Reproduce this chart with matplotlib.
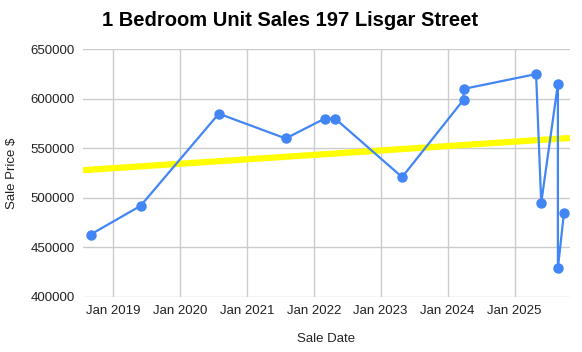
import numpy as np
import pandas as pd
import matplotlib
matplotlib.use("Agg")
import matplotlib.pyplot as plt
import matplotlib.dates as mdates

plt.rcParams['font.family'] = ['Liberation Sans', 'DejaVu Sans']

sale_dates = ["2018-09-01", "2019-06-01", "2020-08-01", "2021-08-01", "2022-03-01",
              "2022-04-28", "2023-04-28", "2024-03-28", "2024-03-28", "2025-04-28",
              "2025-05-26", "2025-08-25", "2025-08-25", "2025-09-27"]
sale_prices = [463000, 492000, 585000, 560000, 580000, 580000, 521000, 599000,
               610000, 625000, 495000, 615000, 429000, 485000]
# trendline as shown in the chart, at the two axis ends
trend_dates = ["2018-07-22", "2025-10-30"]
trend_prices = [528000, 560500]

dates = pd.to_datetime(sale_dates)
xnum = mdates.date2num(dates)
tx = mdates.date2num(pd.to_datetime(trend_dates))

fig = plt.figure(figsize=(5.82, 3.52), dpi=100)
ax = fig.add_axes([83/582, 1-297/352, (570-83)/582, (297-49.3)/352])

ax.plot(tx, trend_prices, color='#FFFF00', lw=4.5, solid_capstyle='butt', zorder=2)
ax.plot(xnum, sale_prices, color='#4285F4', lw=1.6, marker='o', ms=6.5, zorder=3)

ax.set_xlim(tx[0], tx[1])
ax.set_ylim(400000, 650000)
ax.set_yticks(range(400000, 650001, 50000))
ax.yaxis.set_major_formatter(matplotlib.ticker.FuncFormatter(lambda v, p: f"{int(v)}"))
ax.xaxis.set_major_locator(mdates.YearLocator())
ax.xaxis.set_major_formatter(mdates.DateFormatter("Jan %Y"))

ax.grid(True, color='#cccccc', lw=1)
ax.set_axisbelow(True)
for s in ax.spines.values():
    s.set_visible(False)
ax.tick_params(length=0, labelsize=9.5, colors='#222222', pad=6)

ax.set_xlabel("Sale Date", fontsize=9.5, labelpad=11, color='#222222')
ax.set_ylabel("Sale Price $", fontsize=9.5, labelpad=9, color='#222222')
fig.text(0.498, 0.942, "1 Bedroom Unit Sales 197 Lisgar Street", ha='center',
         va='center', fontsize=14.5, fontweight='bold')

fig.savefig("out.png", dpi=100)
